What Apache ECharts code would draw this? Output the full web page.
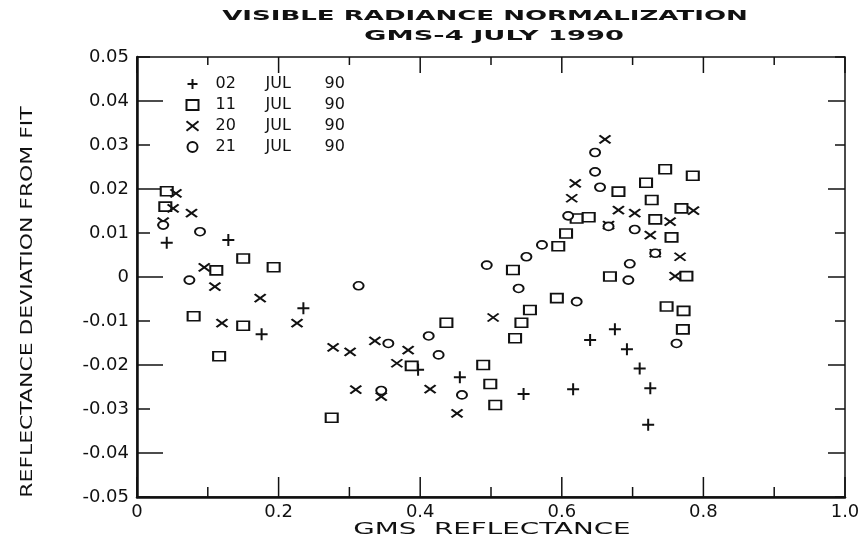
<!DOCTYPE html>
<html>
<head>
    <meta charset="utf-8">
    <title>Visible Radiance Normalization</title>
    <script src="https://cdn.jsdelivr.net/npm/echarts@6/dist/echarts.min.js"></script>
</head>
<body style="margin:0">
    <div id="main" style="width:867px;height:543px;"></div>
    <script type="text/javascript">
        var myChart = echarts.init(document.getElementById('main'));

        // [GMS reflectance, deviation from fit]
        var jul02 = [
            [0.042, 0.0078], [0.129, 0.0084], [0.176, -0.013], [0.235, -0.0071],
            [0.397, -0.0211], [0.456, -0.0228], [0.546, -0.0266], [0.616, -0.0255],
            [0.640, -0.0143], [0.675, -0.0119], [0.692, -0.0164], [0.710, -0.0208],
            [0.725, -0.0253], [0.722, -0.0336]
        ];
        var jul11 = [
            [0.042, 0.0195], [0.040, 0.016], [0.112, 0.0015], [0.150, 0.0042],
            [0.193, 0.0022], [0.080, -0.0089], [0.150, -0.0111], [0.116, -0.018],
            [0.275, -0.032], [0.388, -0.0202], [0.437, -0.0104], [0.489, -0.020],
            [0.499, -0.0243], [0.506, -0.0291], [0.534, -0.0139], [0.543, -0.0104],
            [0.555, -0.0075], [0.593, -0.0048], [0.531, 0.0016], [0.595, 0.007],
            [0.606, 0.0099], [0.621, 0.0133], [0.638, 0.0136], [0.680, 0.0194],
            [0.719, 0.0214], [0.746, 0.0245], [0.785, 0.023], [0.727, 0.0175],
            [0.769, 0.0156], [0.732, 0.0131], [0.755, 0.009], [0.668, 0.0001],
            [0.776, 0.0002], [0.748, -0.0067], [0.772, -0.0077], [0.771, -0.0119]
        ];
        var jul20 = [
            [0.055, 0.019], [0.051, 0.0156], [0.077, 0.0145], [0.037, 0.0126],
            [0.095, 0.0022], [0.110, -0.0022], [0.120, -0.0105], [0.174, -0.0048],
            [0.226, -0.0105], [0.277, -0.016], [0.301, -0.017], [0.309, -0.0256],
            [0.336, -0.0145], [0.345, -0.0272], [0.367, -0.0196], [0.383, -0.0166],
            [0.414, -0.0255], [0.452, -0.031], [0.503, -0.0092], [0.614, 0.0179],
            [0.619, 0.0213], [0.661, 0.0313], [0.666, 0.0118], [0.680, 0.0152],
            [0.703, 0.0145], [0.725, 0.0095], [0.732, 0.0054], [0.753, 0.0126],
            [0.786, 0.0151], [0.767, 0.0046], [0.760, 0.0002]
        ];
        var jul21 = [
            [0.037, 0.0118], [0.089, 0.0103], [0.074, -0.0007], [0.313, -0.002],
            [0.345, -0.0258], [0.355, -0.0151], [0.412, -0.0134], [0.426, -0.0177],
            [0.459, -0.0268], [0.494, 0.0027], [0.539, -0.0026], [0.550, 0.0046],
            [0.572, 0.0073], [0.609, 0.0139], [0.621, -0.0056], [0.647, 0.0283],
            [0.647, 0.0239], [0.654, 0.0204], [0.666, 0.0115], [0.696, 0.003],
            [0.694, -0.0007], [0.703, 0.0108], [0.732, 0.0054], [0.762, -0.0151]
        ];
        var seriesNames = ['02 JUL 90', '11 JUL 90', '20 JUL 90', '21 JUL 90'];
        var xTicks = [0, 0.1, 0.2, 0.3, 0.4, 0.5, 0.6, 0.7, 0.8, 0.9, 1.0];
        var yTicks = [-0.05, -0.04, -0.03, -0.02, -0.01, 0, 0.01, 0.02, 0.03, 0.04, 0.05];

        var font = 'DejaVu Sans';
        var ink = '#111';

        function xLabel(v) {
            var k = Math.round(v * 10);
            if (k % 2 !== 0) return '';
            if (k === 0) return '0';
            return (k / 10).toFixed(1);
        }
        function yLabel(v) {
            if (Math.abs(v) < 1e-9) return '0';
            return v.toFixed(2);
        }

        // frame box and inward ticks, placed through the axes with api.coord
        // (axis ticks on the grid edges would not draw with this ECharts build)
        function renderFrame(params, api) {
            var tl = api.coord([0, 0.05]);
            var br = api.coord([1, -0.05]);
            var kids = [{
                type: 'rect',
                shape: { x: tl[0], y: tl[1], width: br[0] - tl[0], height: br[1] - tl[1] },
                style: { fill: 'none', stroke: ink, lineWidth: 1.5 }
            }];
            function tick(x1, y1, x2, y2) {
                kids.push({ type: 'line', shape: { x1: x1, y1: y1, x2: x2, y2: y2 },
                            style: { stroke: ink, lineWidth: 1.5 } });
            }
            xTicks.forEach(function (v, i) {
                var b = api.coord([v, -0.05]);
                var t = api.coord([v, 0.05]);
                var long = i % 2 === 0;
                tick(b[0], b[1], b[0], b[1] - (long ? 20 : 10));
                tick(t[0], t[1], t[0], t[1] + (long ? 16 : 8));
            });
            yTicks.forEach(function (v, i) {
                var l = api.coord([0, v]);
                var r = api.coord([1, v]);
                var long = i % 2 === 1;
                tick(l[0], l[1], l[0] + (long ? 26 : 13), l[1]);
                tick(r[0], r[1], r[0] - (long ? 17 : 10), r[1]);
            });
            return { type: 'group', children: kids };
        }

        var symbols = [
            'path://M0,5L10,5M5,0L5,10',
            'rect',
            'path://M0,0L10,8M10,0L0,8',
            'circle'
        ];
        var sizes = [[12, 12], [12, 9], [11, 8], [10, 8]];
        var datas = [jul02, jul11, jul20, jul21];

        var series = datas.map(function (data, idx) {
            var isLine = idx === 0 || idx === 2;
            return {
                name: seriesNames[idx],
                type: 'scatter',
                symbol: symbols[idx],
                symbolSize: sizes[idx],
                z: 3,
                itemStyle: {
                    color: isLine ? 'none' : '#fff',
                    borderColor: ink,
                    borderWidth: isLine ? 2 : 1.8,
                    opacity: 1
                },
                emphasis: { disabled: true },
                data: data
            };
        });
        series.push({
            type: 'custom',
            silent: true,
            clip: false,
            z: 1,
            renderItem: renderFrame,
            data: [[0.5, 0]]
        });

        var option = {
            animation: false,
            backgroundColor: '#fff',
            grid: { left: 137, right: 22, top: 57, bottom: 46 },
            graphic: [
                {
                    type: 'text', x: 485, y: 16, scaleX: 1.86,
                    style: { text: 'VISIBLE RADIANCE NORMALIZATION', textAlign: 'center', textVerticalAlign: 'middle',
                             font: 'bold 14px "DejaVu Sans"', fill: ink }
                },
                {
                    type: 'text', x: 494, y: 36, scaleX: 1.95,
                    style: { text: 'GMS-4 JULY 1990', textAlign: 'center', textVerticalAlign: 'middle',
                             font: 'bold 14px "DejaVu Sans"', fill: ink }
                },
                {
                    type: 'text', x: 492, y: 530, scaleX: 1.85,
                    style: { text: 'GMS  REFLECTANCE', textAlign: 'center', textVerticalAlign: 'middle',
                             font: '15px "DejaVu Sans"', fill: ink }
                },
                {
                    type: 'text', x: 28, y: 302, rotation: Math.PI / 2, scaleX: 1.46,
                    style: { text: 'REFLECTANCE DEVIATION FROM FIT', textAlign: 'center', textVerticalAlign: 'middle',
                             font: '15px "DejaVu Sans"', fill: ink }
                }
            ],
            legend: {
                orient: 'vertical', left: 184, top: 76, padding: 0, itemGap: 5,
                itemWidth: 12, itemHeight: 10,
                data: seriesNames,
                formatter: function (n) {
                    var p = n.split(' ');
                    return '{d|' + p[0] + '}{m|' + p[1] + '}{y|' + p[2] + '}';
                },
                textStyle: {
                    fontFamily: font, fontSize: 16, color: ink, padding: [0, 0, 0, 12],
                    rich: {
                        d: { fontFamily: font, fontSize: 16, color: ink, width: 50 },
                        m: { fontFamily: font, fontSize: 16, color: ink, width: 59 },
                        y: { fontFamily: font, fontSize: 16, color: ink }
                    }
                }
            },
            xAxis: {
                type: 'value', min: 0, max: 1, interval: 0.1, position: 'bottom',
                axisLine: { show: true, onZero: false, lineStyle: { color: ink, width: 2.5 } },
                axisTick: { show: false },
                axisLabel: { show: true, formatter: xLabel, fontFamily: font, fontSize: 18, color: ink, margin: 6 },
                splitLine: { show: false }
            },
            yAxis: {
                type: 'value', min: -0.05, max: 0.05, interval: 0.01, position: 'left',
                axisLine: { show: true, onZero: false, lineStyle: { color: ink, width: 2.5 } },
                axisTick: { show: false },
                axisLabel: { show: true, formatter: yLabel, fontFamily: font, fontSize: 18, color: ink, margin: 8 },
                splitLine: { show: false }
            },
            series: series
        };

        myChart.setOption(option);
    </script>
</body>
</html>
